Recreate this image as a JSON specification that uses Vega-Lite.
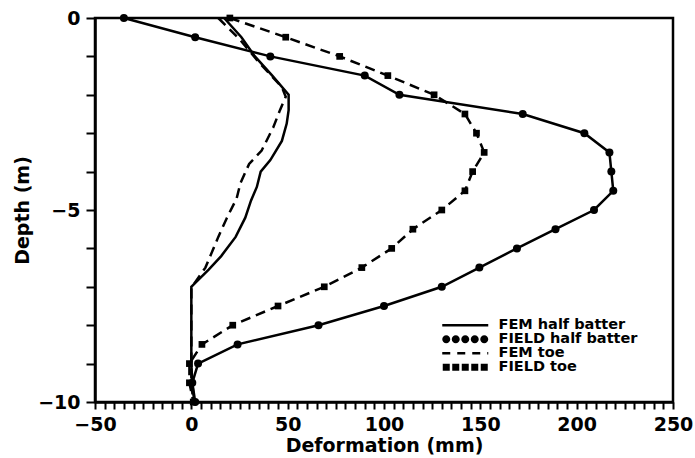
{
  "$schema": "https://vega.github.io/schema/vega-lite/v6.json",
  "width": 578,
  "height": 384,
  "autosize": {"type": "none"},
  "padding": {"left": 95, "top": 18, "right": 22, "bottom": 56},
  "background": "white",
  "config": {"view": {"stroke": "black", "strokeWidth": 2.5}, "font": "DejaVu Sans"},
  "data": {"values": [
    {"series": "FEM half batter", "x": 17, "depth": 0},
    {"series": "FEM half batter", "x": 26, "depth": -0.5},
    {"series": "FEM half batter", "x": 33, "depth": -1},
    {"series": "FEM half batter", "x": 42, "depth": -1.5},
    {"series": "FEM half batter", "x": 50.5, "depth": -2},
    {"series": "FEM half batter", "x": 50.5, "depth": -2.4},
    {"series": "FEM half batter", "x": 49.5, "depth": -2.75},
    {"series": "FEM half batter", "x": 47, "depth": -3.2},
    {"series": "FEM half batter", "x": 41, "depth": -3.7},
    {"series": "FEM half batter", "x": 36, "depth": -4},
    {"series": "FEM half batter", "x": 34, "depth": -4.4},
    {"series": "FEM half batter", "x": 31, "depth": -4.75},
    {"series": "FEM half batter", "x": 28, "depth": -5.2},
    {"series": "FEM half batter", "x": 23, "depth": -5.7},
    {"series": "FEM half batter", "x": 15.5, "depth": -6.2},
    {"series": "FEM half batter", "x": 9, "depth": -6.55},
    {"series": "FEM half batter", "x": 1, "depth": -6.95},
    {"series": "FEM half batter", "x": 0, "depth": -7},
    {"series": "FEM half batter", "x": 0, "depth": -9},
    {"series": "FEM half batter", "x": 0.5, "depth": -9.5},
    {"series": "FEM half batter", "x": 1.5, "depth": -10},

    {"series": "FIELD half batter", "x": -35, "depth": 0},
    {"series": "FIELD half batter", "x": 2, "depth": -0.5},
    {"series": "FIELD half batter", "x": 41, "depth": -1},
    {"series": "FIELD half batter", "x": 90, "depth": -1.5},
    {"series": "FIELD half batter", "x": 108, "depth": -2},
    {"series": "FIELD half batter", "x": 172, "depth": -2.5},
    {"series": "FIELD half batter", "x": 204, "depth": -3},
    {"series": "FIELD half batter", "x": 217, "depth": -3.5},
    {"series": "FIELD half batter", "x": 218, "depth": -4},
    {"series": "FIELD half batter", "x": 219, "depth": -4.5},
    {"series": "FIELD half batter", "x": 209, "depth": -5},
    {"series": "FIELD half batter", "x": 189, "depth": -5.5},
    {"series": "FIELD half batter", "x": 169, "depth": -6},
    {"series": "FIELD half batter", "x": 149.5, "depth": -6.5},
    {"series": "FIELD half batter", "x": 130, "depth": -7},
    {"series": "FIELD half batter", "x": 100, "depth": -7.5},
    {"series": "FIELD half batter", "x": 66, "depth": -8},
    {"series": "FIELD half batter", "x": 24, "depth": -8.5},
    {"series": "FIELD half batter", "x": 3.5, "depth": -9},
    {"series": "FIELD half batter", "x": 0.5, "depth": -9.5},
    {"series": "FIELD half batter", "x": 2, "depth": -10},

    {"series": "FEM toe", "x": 14, "depth": 0},
    {"series": "FEM toe", "x": 25, "depth": -0.55},
    {"series": "FEM toe", "x": 35, "depth": -1.15},
    {"series": "FEM toe", "x": 47, "depth": -1.8},
    {"series": "FEM toe", "x": 49, "depth": -2.05},
    {"series": "FEM toe", "x": 46, "depth": -2.4},
    {"series": "FEM toe", "x": 42.5, "depth": -2.85},
    {"series": "FEM toe", "x": 36.5, "depth": -3.45},
    {"series": "FEM toe", "x": 30, "depth": -3.8},
    {"series": "FEM toe", "x": 25.5, "depth": -4.3},
    {"series": "FEM toe", "x": 23.5, "depth": -4.7},
    {"series": "FEM toe", "x": 18.5, "depth": -5.2},
    {"series": "FEM toe", "x": 14, "depth": -5.7},
    {"series": "FEM toe", "x": 7.3, "depth": -6.5},
    {"series": "FEM toe", "x": 1, "depth": -6.95},
    {"series": "FEM toe", "x": 0, "depth": -7},
    {"series": "FEM toe", "x": 0, "depth": -9},
    {"series": "FEM toe", "x": 0, "depth": -9.5},
    {"series": "FEM toe", "x": 1, "depth": -10},

    {"series": "FIELD toe", "x": 20, "depth": 0},
    {"series": "FIELD toe", "x": 49, "depth": -0.5},
    {"series": "FIELD toe", "x": 77, "depth": -1},
    {"series": "FIELD toe", "x": 102, "depth": -1.5},
    {"series": "FIELD toe", "x": 126, "depth": -2},
    {"series": "FIELD toe", "x": 142, "depth": -2.5},
    {"series": "FIELD toe", "x": 148, "depth": -3},
    {"series": "FIELD toe", "x": 152, "depth": -3.5},
    {"series": "FIELD toe", "x": 146, "depth": -4},
    {"series": "FIELD toe", "x": 142, "depth": -4.5},
    {"series": "FIELD toe", "x": 130, "depth": -5},
    {"series": "FIELD toe", "x": 115, "depth": -5.5},
    {"series": "FIELD toe", "x": 104, "depth": -6},
    {"series": "FIELD toe", "x": 88.5, "depth": -6.5},
    {"series": "FIELD toe", "x": 69, "depth": -7},
    {"series": "FIELD toe", "x": 45, "depth": -7.5},
    {"series": "FIELD toe", "x": 21.5, "depth": -8},
    {"series": "FIELD toe", "x": 5.5, "depth": -8.5},
    {"series": "FIELD toe", "x": -1, "depth": -9},
    {"series": "FIELD toe", "x": -1, "depth": -9.5},
    {"series": "FIELD toe", "x": 1, "depth": -10}
  ]},
  "encoding": {
    "x": {
      "field": "x", "type": "quantitative",
      "scale": {"domain": [-50, 250], "nice": false, "zero": false},
      "axis": {
        "title": "Deformation (mm)",
        "format": "d",
        "values": [-50,-45,-40,-35,-30,-25,-20,-15,-10,-5,0,5,10,15,20,25,30,35,40,45,50,55,60,65,70,75,80,85,90,95,100,105,110,115,120,125,130,135,140,145,150,155,160,165,170,175,180,185,190,195,200,205,210,215,220,225,230,235,240,245,250],
        "labelExpr": "datum.value % 50 === 0 ? datum.label : ''",
        "labelOverlap": false,
        "labelFlush": false,
        "grid": false,
        "domainColor": "black", "domainWidth": 2.5,
        "tickColor": "black", "tickWidth": 2, "tickSize": 7,
        "labelFont": "DejaVu Sans", "labelFontWeight": "bold", "labelFontSize": 19, "labelColor": "black",
        "labelPadding": 6,
        "titleFont": "DejaVu Sans", "titleFontWeight": "bold", "titleFontSize": 19, "titleColor": "black",
        "titlePadding": 2,
        "encode": {"ticks": {"update": {"y": {"signal": "datum.value % 50 === 0 ? -3 : 0"}, "y2": {"signal": "datum.value % 50 === 0 ? 10 : 7"}}}}
      }
    },
    "y": {
      "field": "depth", "type": "quantitative",
      "scale": {"domain": [-10, 0], "nice": false, "zero": false},
      "axis": {
        "title": "Depth (m)",
        "format": "d",
        "values": [-10,-9.5,-9,-8.5,-8,-7.5,-7,-6.5,-6,-5.5,-5,-4.5,-4,-3.5,-3,-2.5,-2,-1.5,-1,-0.5,0],
        "labelExpr": "datum.value % 5 === 0 ? datum.label : ''",
        "labelOverlap": false,
        "labelFlush": false,
        "grid": false,
        "domainColor": "black", "domainWidth": 2.5,
        "tickColor": "black", "tickWidth": 2, "tickSize": 9,
        "labelFont": "DejaVu Sans", "labelFontWeight": "bold", "labelFontSize": 19, "labelColor": "black",
        "labelPadding": 6,
        "titleFont": "DejaVu Sans", "titleFontWeight": "bold", "titleFontSize": 19, "titleColor": "black",
        "titlePadding": 5,
        "encode": {"ticks": {"update": {"x2": {"signal": "datum.value % 5 === 0 ? 4 : 0"}}}}
      }
    },
    "detail": {"field": "series", "type": "nominal"}
  },
  "layer": [
    {
      "transform": [{"filter": "datum.series === 'FEM half batter' || datum.series === 'FIELD half batter'"}],
      "mark": {"type": "line", "strokeWidth": 2.5},
      "encoding": {
        "order": {"field": "depth", "sort": "descending"},
        "color": {
          "field": "series", "type": "nominal",
          "scale": {"domain": ["FEM half batter", "FIELD half batter", "FEM toe", "FIELD toe"], "range": ["black", "black", "black", "black"]},
          "legend": {
            "title": null,
            "orient": "none",
            "legendX": 342,
            "legendY": 300,
            "padding": 0,
            "rowPadding": -11,
            "symbolType": "M-11.5,0H11.5",
            "symbolSize": 16,
            "symbolOffset": 21,
            "labelOffset": 26,
            "labelFont": "DejaVu Sans", "labelFontWeight": "bold", "labelFontSize": 14.5, "labelColor": "black",
            "labelLimit": 400,
            "encode": {"symbols": {"update": {
              "shape": {"signal": "datum.value === 'FIELD half batter' ? 'M-11.5,0A2,2 0 1,0 -7.5,0A2,2 0 1,0 -11.5,0Z M-6.75,0A2,2 0 1,0 -2.75,0A2,2 0 1,0 -6.75,0Z M-2,0A2,2 0 1,0 2,0A2,2 0 1,0 -2,0Z M2.75,0A2,2 0 1,0 6.75,0A2,2 0 1,0 2.75,0Z M7.5,0A2,2 0 1,0 11.5,0A2,2 0 1,0 7.5,0Z' : datum.value === 'FIELD toe' ? 'M-11.25,-1.75H-7.75V1.75H-11.25Z M-6.5,-1.75H-3V1.75H-6.5Z M-1.75,-1.75H1.75V1.75H-1.75Z M3,-1.75H6.5V1.75H3Z M7.75,-1.75H11.25V1.75H7.75Z' : 'M-11.5,0H11.5'"},
              "stroke": {"signal": "datum.value === 'FIELD half batter' || datum.value === 'FIELD toe' ? 'transparent' : 'black'"},
              "fill": {"signal": "datum.value === 'FIELD half batter' || datum.value === 'FIELD toe' ? 'black' : 'transparent'"},
              "strokeDash": {"signal": "datum.value === 'FEM toe' ? [8, 7] : [1, 0]"},
              "strokeWidth": {"signal": "datum.value === 'FIELD half batter' || datum.value === 'FIELD toe' ? 0 : 2.5"}
            }}}
          }
        }
      }
    },
    {
      "transform": [{"filter": "datum.series === 'FEM toe' || datum.series === 'FIELD toe'"}],
      "mark": {"type": "line", "strokeWidth": 2.5, "strokeDash": [10, 6], "color": "black"},
      "encoding": {
        "order": {"field": "depth", "sort": "descending"}
      }
    },
    {
      "transform": [{"filter": "datum.series === 'FIELD half batter'"}],
      "mark": {"type": "point", "shape": "circle", "filled": true, "size": 64, "color": "black", "opacity": 1}
    },
    {
      "transform": [{"filter": "datum.series === 'FIELD toe'"}],
      "mark": {"type": "point", "shape": "square", "filled": true, "size": 45, "color": "black", "opacity": 1}
    }
  ]
}
